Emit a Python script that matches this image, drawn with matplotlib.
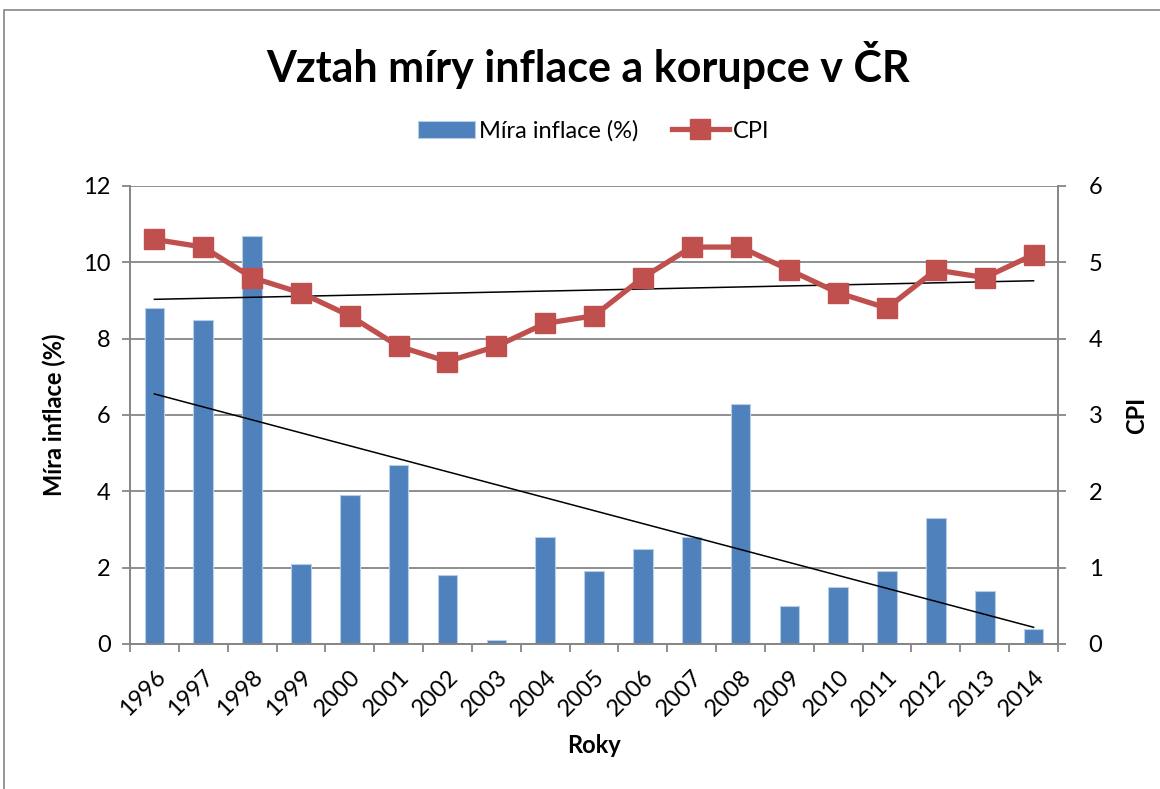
import matplotlib
matplotlib.use("Agg")
import matplotlib.pyplot as plt
from matplotlib.patches import Rectangle
import numpy as np

plt.rcParams["font.family"] = ["Lato", "DejaVu Sans"]

# Data
years = ["1996", "1997", "1998", "1999", "2000", "2001", "2002", "2003", "2004", "2005",
         "2006", "2007", "2008", "2009", "2010", "2011", "2012", "2013", "2014"]
inflation = [8.8, 8.5, 10.7, 2.1, 3.9, 4.7, 1.8, 0.1, 2.8, 1.9,
             2.5, 2.8, 6.3, 1.0, 1.5, 1.9, 3.3, 1.4, 0.4]
cpi = [5.3, 5.2, 4.8, 4.6, 4.3, 3.9, 3.7, 3.9, 4.2, 4.3,
       4.8, 5.2, 5.2, 4.9, 4.6, 4.4, 4.9, 4.8, 5.1]

BLUE = "#4F81BD"
RED = "#C0504D"
GRID = "#868686"

x = np.arange(len(years))

fig = plt.figure(figsize=(11.6, 7.89), dpi=100)
ax = fig.add_axes([130 / 1160, 1 - 644 / 789, 928 / 1160, 458 / 789])
ax2 = ax.twinx()

# bars + linear trend
bars = ax.bar(x, inflation, width=0.4, color=BLUE, edgecolor="#B9CDE5",
              linewidth=0.8, label="Míra inflace (%)", zorder=2)
k, q = np.polyfit(x, inflation, 1)
ax.plot(x, k * x + q, color="black", linewidth=1.1, zorder=3)

# CPI line + linear trend
line, = ax2.plot(x, cpi, color=RED, linewidth=3.8, marker="s", markersize=14,
                 label="CPI", zorder=4)
k2, q2 = np.polyfit(x, cpi, 1)
ax2.plot(x, k2 * x + q2, color="black", linewidth=1.1, zorder=3)

ax.set_xlim(-0.5, len(years) - 0.5)
ax.set_ylim(0, 12)
ax2.set_ylim(0, 6)
ax.set_yticks(np.arange(0, 13, 2))
ax2.set_yticks(np.arange(0, 7, 1))

ax.yaxis.grid(True, color=GRID, linewidth=1.3)
ax.set_axisbelow(True)

ax.set_xticks(x)
ax.set_xticklabels(years, rotation=45, ha="right", rotation_mode="anchor", fontsize=17)
ax.set_xticks(np.arange(-0.5, len(years), 1), minor=True)
ax.tick_params(axis="x", which="major", length=0, pad=16)
ax.tick_params(axis="x", which="minor", length=6, color=GRID, width=1.3)
ax.tick_params(axis="y", labelsize=17, length=6, color=GRID, width=1.3, pad=8)
ax2.tick_params(axis="y", labelsize=17, length=6, color=GRID, width=1.3, pad=16)

for a in (ax, ax2):
    for s in a.spines.values():
        s.set_color(GRID)
        s.set_linewidth(1.3)
    a.spines["top"].set_visible(False)

ax.set_ylabel("Míra inflace (%)", fontsize=17, fontweight="bold", labelpad=12)
ax2.set_ylabel("CPI", fontsize=17, fontweight="bold", labelpad=16)
ax.set_xlabel("Roky", fontsize=17, fontweight="bold", labelpad=10)

fig.suptitle("Vztah míry inflace a korupce v ČR", x=0.507, y=0.948,
             fontsize=31, fontweight="bold")

fig.legend([bars, line], ["Míra inflace (%)", "CPI"], loc="center",
           bbox_to_anchor=(0.512, 1 - 131 / 789), ncol=2, frameon=False,
           fontsize=17, handlelength=2.4, columnspacing=1.4, handletextpad=0.2)

# outer chart border
fig.patches.append(Rectangle((4 / 1160, -0.01), 1.1, 1 - 10 / 789 + 0.01,
                             transform=fig.transFigure, fill=False,
                             edgecolor=GRID, linewidth=1.2))

fig.savefig("out.png", dpi=100)
